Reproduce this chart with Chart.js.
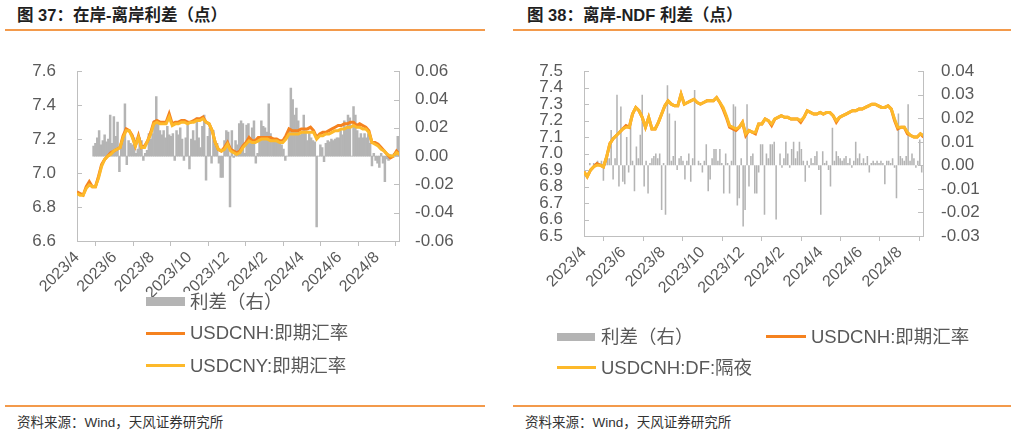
<!DOCTYPE html>
<html>
<head>
<meta charset="utf-8">
<script src="https://cdn.jsdelivr.net/npm/chart.js@4.4.1/dist/chart.umd.min.js"></script>
<style>
  body { margin: 0; width: 1016px; height: 434px; position: relative; overflow: hidden; background: #fff;
         font-family: 'Liberation Sans', 'Noto Sans CJK SC', sans-serif; }
  .title { position: absolute; top: 5px; font-size: 16.5px; line-height: 20px; font-weight: bold; color: #1f1f1f; white-space: nowrap; }
  .rule { position: absolute; height: 2px; background: #f39a4b; }
  .src { position: absolute; top: 415px; font-size: 13.5px; line-height: 16px; color: #333; white-space: nowrap; }
  canvas { position: absolute; top: 40px; }
  .lg { position: absolute; font-size: 18.5px; line-height: 22px; color: #595959; white-space: nowrap; z-index: 2; }
  .sw { position: absolute; z-index: 2; }
</style>
</head>
<body>
<div class="title" style="left:17px">图 37：在岸-离岸利差（点）</div>
<div class="rule" style="left:5px;width:480px;top:29px"></div>
<div class="title" style="left:527px">图 38：离岸-NDF 利差（点）</div>
<div class="rule" style="left:513px;width:498px;top:29px"></div>

<canvas id="c37" width="508" height="300" style="left:0"></canvas>
<canvas id="c38" width="508" height="300" style="left:508px"></canvas>

<!-- legend, chart 37 -->
<div class="sw" style="left:146px;top:297px;width:39px;height:9px;background:#b4b4b4"></div>
<div class="lg" style="left:186px;top:291px;padding-left:4px;background:#fff">利差（右）</div>
<div class="sw" style="left:146px;top:332px;width:39px;height:3px;background:#f5821f"></div>
<div class="lg" style="left:190px;top:322px">USDCNH:即期汇率</div>
<div class="sw" style="left:146px;top:364px;width:39px;height:3px;background:#fdb92a"></div>
<div class="lg" style="left:190px;top:355px">USDCNY:即期汇率</div>

<!-- legend, chart 38 -->
<div class="sw" style="left:557px;top:333px;width:38px;height:8px;background:#b4b4b4"></div>
<div class="lg" style="left:601px;top:326px">利差（右）</div>
<div class="sw" style="left:766px;top:335px;width:40px;height:3px;background:#f5821f"></div>
<div class="lg" style="left:811px;top:326px">USDCNH:即期汇率</div>
<div class="sw" style="left:557px;top:366px;width:39px;height:3px;background:#fdb92a"></div>
<div class="lg" style="left:601px;top:357px">USDCNH:DF:隔夜</div>

<div class="rule" style="left:5px;width:480px;top:405px"></div>
<div class="src" style="left:17px">资料来源：Wind，天风证券研究所</div>
<div class="rule" style="left:513px;width:498px;top:405px"></div>
<div class="src" style="left:525px">资料来源：Wind，天风证券研究所</div>

<script>
// dates
const startDate = '2023-04-01';
const endDate = '2024-09-06';
const lineStepDays = 5;      // one line point every 5 days from startDate
const barStepDays = 3;       // one bar every 3 days
const monthTicks = ['2023-04-01', '2023-06-01', '2023-08-01', '2023-10-01', '2023-12-01',
                    '2024-02-01', '2024-04-01', '2024-06-01', '2024-08-01'];
const monthLabels = ['2023/4', '2023/6', '2023/8', '2023/10', '2023/12', '2024/2', '2024/4', '2024/6', '2024/8'];

// chart 37: onshore / offshore
const priceTicks37 = [6.6, 6.8, 7.0, 7.2, 7.4, 7.6];
const spreadTicks37 = [-0.06, -0.04, -0.02, 0, 0.02, 0.04, 0.06];
const spreadStart37 = '2023-04-28';
const cnhSpot37 = [
  6.89, 6.88, 6.87, 6.92, 6.95, 6.92, 6.92, 6.98, 7.05, 7.08,
  7.10, 7.12, 7.13, 7.14, 7.15, 7.22, 7.26, 7.25, 7.22, 7.16,
  7.22, 7.15, 7.16, 7.19, 7.24, 7.30, 7.31, 7.30, 7.30, 7.30,
  7.35, 7.29, 7.30, 7.30, 7.31, 7.31, 7.30, 7.30, 7.31, 7.32,
  7.32, 7.33, 7.30, 7.29, 7.25, 7.18, 7.14, 7.13, 7.15, 7.18,
  7.14, 7.13, 7.12, 7.13, 7.16, 7.18, 7.21, 7.19, 7.19, 7.21,
  7.21, 7.21, 7.21, 7.21, 7.20, 7.20, 7.19, 7.19, 7.22, 7.26,
  7.25, 7.25, 7.25, 7.26, 7.26, 7.26, 7.27, 7.25, 7.21, 7.23,
  7.24, 7.24, 7.25, 7.26, 7.27, 7.28, 7.28, 7.29, 7.29, 7.30,
  7.30, 7.28, 7.29, 7.28, 7.27, 7.25, 7.18, 7.18, 7.17, 7.15,
  7.13, 7.11, 7.09, 7.10, 7.13, 7.11
];
const cnySpot37 = [
  6.88, 6.87, 6.87, 6.91, 6.93, 6.92, 6.92, 6.97, 7.04, 7.08,
  7.10, 7.11, 7.13, 7.14, 7.15, 7.21, 7.25, 7.25, 7.21, 7.16,
  7.21, 7.15, 7.15, 7.19, 7.23, 7.29, 7.30, 7.29, 7.29, 7.29,
  7.33, 7.28, 7.29, 7.29, 7.30, 7.30, 7.29, 7.30, 7.30, 7.31,
  7.31, 7.32, 7.30, 7.29, 7.25, 7.18, 7.14, 7.13, 7.14, 7.17,
  7.13, 7.12, 7.11, 7.12, 7.15, 7.17, 7.19, 7.18, 7.18, 7.19,
  7.20, 7.20, 7.20, 7.19, 7.19, 7.19, 7.18, 7.18, 7.20, 7.23,
  7.23, 7.23, 7.23, 7.24, 7.24, 7.24, 7.24, 7.24, 7.20, 7.22,
  7.22, 7.23, 7.23, 7.24, 7.25, 7.25, 7.26, 7.26, 7.27, 7.27,
  7.28, 7.27, 7.27, 7.26, 7.26, 7.24, 7.18, 7.17, 7.16, 7.14,
  7.13, 7.11, 7.10, 7.10, 7.12, 7.11
];
const spread37 = [
  0.007, 0.009, 0.013, 0.018, 0.008, 0.011, 0.015, 0.010, 0.012, 0.029,
  0.009, 0.028, 0.014, 0.024, -0.011, 0.006, 0.012, 0.037, -0.006, 0.011,
  0.009, 0.008, 0.013, 0.002, 0.005, 0.013, 0.011, -0.003, 0.002, 0.004,
  0.016, 0.012, 0.016, 0.025, 0.042, 0.025, 0.018, 0.015, 0.018, 0.013,
  0.021, 0.015, 0.014, 0.016, -0.003, 0.018, 0.015, 0.020, 0.012, -0.003,
  0.013, 0.022, -0.009, 0.012, 0.018, 0.011, 0.027, 0.013, 0.006, 0.021,
  0.029, -0.017, 0.014, 0.020, -0.005, 0.018, 0.010, 0.009, -0.005, -0.015,
  -0.015, 0.011, 0.018, 0.017, -0.036, 0.018, -0.001, 0.011, 0.008, 0.023,
  0.025, 0.023, 0.002, 0.022, 0.023, 0.010, 0.020, 0.025, -0.005, 0.002,
  0.014, 0.025, 0.021, 0.020, 0.017, 0.037, 0.016, 0.013, 0.012, 0.011,
  0.010, 0.009, 0.008, 0.005, -0.003, 0, 0.019, 0.048, 0.040, 0.029,
  0.034, 0.025, 0.015, 0.016, 0.029, 0.018, 0.011, 0.016, 0.013, 0.011,
  0.010, -0.050, 0, 0.008, 0.006, -0.004, 0.009, 0.011, 0.010, 0.012,
  0.011, 0.012, 0.013, 0.013, 0.018, 0.015, 0.025, 0.020, 0.029, 0.027,
  0, 0.035, 0.029, 0.018, 0.013, 0.016, 0.013, 0.016, 0.013, 0.016,
  0.009, -0.007, 0.002, -0.003, -0.005, -0.008, 0.002, -0.005, -0.018, -0.002,
  -0.003, 0.001, -0.001, 0.002, 0.002, 0.014
];

// chart 38: offshore / NDF
const priceTicks38 = [6.5, 6.6, 6.7, 6.8, 6.9, 7.0, 7.1, 7.2, 7.3, 7.4, 7.5];
const spreadTicks38 = [-0.03, -0.02, -0.01, 0, 0.01, 0.02, 0.03, 0.04];
const spreadStart38 = '2023-04-01';
const cnhSpot38 = [
  6.89, 6.86, 6.90, 6.92, 6.94, 6.93, 6.92, 6.98, 7.06, 7.09,
  7.11, 7.13, 7.15, 7.17, 7.16, 7.24, 7.28, 7.26, 7.22, 7.16,
  7.22, 7.15, 7.15, 7.19, 7.24, 7.29, 7.32, 7.30, 7.29, 7.29,
  7.36, 7.30, 7.31, 7.32, 7.33, 7.31, 7.30, 7.31, 7.32, 7.32,
  7.32, 7.34, 7.31, 7.27, 7.22, 7.16, 7.15, 7.14, 7.16, 7.19,
  7.11, 7.14, 7.13, 7.12, 7.18, 7.18, 7.21, 7.20, 7.17, 7.21,
  7.22, 7.23, 7.22, 7.22, 7.21, 7.21, 7.21, 7.19, 7.22, 7.26,
  7.25, 7.24, 7.24, 7.25, 7.24, 7.25, 7.25, 7.23, 7.19, 7.22,
  7.23, 7.24, 7.25, 7.26, 7.26, 7.27, 7.27, 7.28, 7.29, 7.30,
  7.30, 7.29, 7.28, 7.28, 7.29, 7.27, 7.20, 7.15, 7.16, 7.16,
  7.12, 7.11, 7.10, 7.10, 7.12, 7.10
];
const cnhDf38 = [
  6.89, 6.86, 6.90, 6.92, 6.93, 6.93, 6.92, 6.98, 7.06, 7.09,
  7.11, 7.13, 7.15, 7.16, 7.16, 7.24, 7.28, 7.26, 7.22, 7.16,
  7.22, 7.15, 7.15, 7.19, 7.24, 7.29, 7.32, 7.30, 7.29, 7.29,
  7.36, 7.30, 7.31, 7.32, 7.33, 7.31, 7.30, 7.31, 7.32, 7.32,
  7.32, 7.34, 7.31, 7.28, 7.23, 7.17, 7.16, 7.15, 7.16, 7.19,
  7.12, 7.14, 7.13, 7.13, 7.18, 7.18, 7.21, 7.20, 7.18, 7.21,
  7.22, 7.23, 7.22, 7.22, 7.21, 7.21, 7.21, 7.20, 7.22, 7.26,
  7.25, 7.24, 7.24, 7.25, 7.24, 7.25, 7.25, 7.23, 7.20, 7.22,
  7.23, 7.24, 7.25, 7.26, 7.26, 7.27, 7.27, 7.28, 7.29, 7.30,
  7.30, 7.29, 7.28, 7.28, 7.29, 7.27, 7.21, 7.16, 7.16, 7.16,
  7.13, 7.11, 7.10, 7.10, 7.12, 7.11
];
const spread38 = [
  0, 0, 0, 0.001, 0, 0.001, 0.001, 0.002, 0.001, 0.002,
  -0.0065, 0.002, 0.004, 0.003, 0.015, -0.006, 0.003, 0.030, -0.009, 0.025,
  -0.007, -0.008, 0.012, -0.003, 0.020, 0.002, -0.011, 0.008, 0.003, 0.013,
  0.030, -0.009, 0.002, -0.012, 0.001, 0.003, 0.004, 0.005, 0.003, 0.005,
  -0.019, 0.001, -0.021, 0.034, 0.022, 0.002, 0.004, 0.019, -0.002, 0.003,
  0.004, 0.002, -0.006, 0.002, 0.005, -0.007, 0.003, 0.032, 0, 0.002,
  0.001, -0.003, 0.002, 0.009, -0.011, -0.006, 0.003, 0.007, 0.007, 0.002,
  0.007, 0.001, -0.012, 0.005, 0.001, -0.012, 0.002, 0.026, 0.025, -0.017,
  -0.014, 0.003, -0.026, -0.019, 0.026, -0.009, 0.004, 0.005, -0.012, -0.012,
  -0.003, 0.009, 0.009, -0.021, 0.005, 0.003, 0.009, 0.009, 0.010, -0.023,
  0, 0.005, -0.001, 0.003, 0.010, 0.005, -0.001, 0.007, 0.010, 0.003,
  0.006, 0.010, 0.007, 0.002, -0.007, 0.002, -0.001, 0.003, 0.001, 0.004,
  0.006, -0.002, -0.021, 0.006, 0.001, 0.002, -0.002, -0.009, 0.016, 0.002,
  0.006, 0.004, 0.003, 0.002, 0.003, 0.004, 0.001, 0.003, -0.001, 0.002,
  0.010, 0.003, 0.005, 0.001, 0.003, 0.001, 0.004, -0.003, 0.001, 0.002,
  0.001, 0.002, 0.001, 0.002, 0.001, -0.008, 0.002, 0.002, 0.001, 0.003,
  -0.001, -0.014, 0.022, 0.004, 0.003, 0.002, 0.004, 0.026, 0.002, 0.005,
  0.003, -0.001, 0.002, 0.011, -0.003
];

const axisColor = '#bfbfbf';
const textColor = '#595959';
const barColor = '#b4b4b4';
const cnhColor = '#f5821f';
const cnyColor = '#fdb92a';

Chart.defaults.font.family = "'Liberation Sans', 'Noto Sans CJK SC', sans-serif";
Chart.defaults.color = textColor;

function dayOf(date) {
  return (Date.parse(date) - Date.parse(startDate)) / 86400000;
}

function linePoints(values) {
  return values.map((v, i) => ({ x: i * lineStepDays, y: v }));
}

function barPoints(values, from) {
  const d0 = dayOf(from);
  return values.map((v, i) => ({ x: d0 + i * barStepDays, y: v }));
}

// small tick marks pointing into the plot on both value axes
const inwardTicks = {
  id: 'inwardTicks',
  afterDraw(chart) {
    const ctx = chart.ctx;
    ctx.save();
    ctx.strokeStyle = axisColor;
    ctx.lineWidth = 1;
    ['y', 'y1'].forEach(id => {
      const s = chart.scales[id];
      const x = id === 'y' ? s.right : s.left;
      const dir = id === 'y' ? 1 : -1;
      s.ticks.forEach((t, i) => {
        const py = Math.round(s.getPixelForTick(i)) + 0.5;
        ctx.beginPath();
        ctx.moveTo(x, py);
        ctx.lineTo(x + dir * 5, py);
        ctx.stroke();
      });
    });
    ctx.restore();
  }
};

function makeChart(id, o) {
  new Chart(document.getElementById(id), {
    type: 'bar',
    data: {
      datasets: [
        { type: 'bar', label: '利差（右）', data: barPoints(o.spread, o.spreadStart), yAxisID: 'y1',
          backgroundColor: barColor, barPercentage: o.barPct, categoryPercentage: 1, order: 3 },
        { type: 'line', label: o.names[0], data: linePoints(o.lineA), yAxisID: 'y',
          borderColor: cnhColor, borderWidth: 3, pointRadius: 0, order: 2 },
        { type: 'line', label: o.names[1], data: linePoints(o.lineB), yAxisID: 'y',
          borderColor: cnyColor, borderWidth: 3, pointRadius: 0, order: 1 }
      ]
    },
    options: {
      responsive: false,
      animation: false,
      events: [],
      layout: { padding: { top: o.top, left: 0, right: 0, bottom: 0 } },
      plugins: { legend: { display: false }, tooltip: { enabled: false } },
      scales: {
        x: {
          type: 'linear', min: 0, max: dayOf(endDate), offset: false,
          afterBuildTicks: s => { s.ticks = monthTicks.map(d => ({ value: dayOf(d) })); },
          afterFit: s => { s.height = o.xHeight; },
          ticks: { autoSkip: false, maxRotation: 45, minRotation: 45, padding: 2,
                   font: { size: 16 }, callback: (v, i) => monthLabels[i] },
          grid: { drawOnChartArea: false, color: axisColor, tickLength: 5 },
          border: { color: axisColor }
        },
        y: {
          position: 'left', min: o.priceTicks[0], max: o.priceTicks[o.priceTicks.length - 1],
          afterBuildTicks: s => { s.ticks = o.priceTicks.map(v => ({ value: v })); },
          afterFit: s => { s.width = o.leftWidth; },
          ticks: { autoSkip: false, padding: 21, font: { size: 17 }, callback: v => v.toFixed(1) },
          grid: { display: false, drawTicks: false },
          border: { color: axisColor }
        },
        y1: {
          position: 'right', min: o.spreadTicks[0], max: o.spreadTicks[o.spreadTicks.length - 1],
          afterBuildTicks: s => { s.ticks = o.spreadTicks.map(v => ({ value: v })); },
          afterFit: s => { s.width = o.rightWidth; },
          ticks: { autoSkip: false, padding: o.rightPad, font: { size: 17 }, callback: v => v.toFixed(2) },
          grid: { display: false, drawTicks: false },
          border: { color: axisColor }
        }
      }
    },
    plugins: [inwardTicks]
  });
}

makeChart('c37', {
  spread: spread37, spreadStart: spreadStart37, lineA: cnhSpot37, lineB: cnySpot37,
  names: ['USDCNH:即期汇率', 'USDCNY:即期汇率'],
  priceTicks: priceTicks37, spreadTicks: spreadTicks37,
  top: 26, xHeight: 99, leftWidth: 77, rightWidth: 109, rightPad: 16, barPct: 1
});

makeChart('c38', {
  spread: spread38, spreadStart: spreadStart38, lineA: cnhSpot38, lineB: cnhDf38,
  names: ['USDCNH:即期汇率', 'USDCNH:DF:隔夜'],
  priceTicks: priceTicks38, spreadTicks: spreadTicks38,
  top: 23, xHeight: 104, leftWidth: 76, rightWidth: 93, rightPad: 18, barPct: 0.8
});
</script>
</body>
</html>
